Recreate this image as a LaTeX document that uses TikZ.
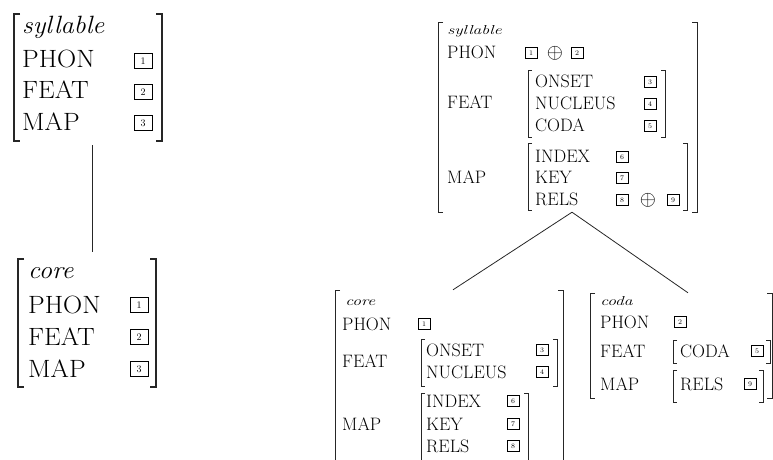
\documentclass[tikz,border=0pt]{standalone}
\usetikzlibrary{fit}
\newcommand{\avmLB}[4]{\draw[brk] (#1+#4,#2) -- (#1,#2) -- (#1,#3) -- (#1+#4,#3);}
\newcommand{\avmRB}[4]{\draw[brk] (#1-#4,#2) -- (#1,#2) -- (#1,#3) -- (#1-#4,#3);}
\tikzset{
  brk/.style={line width=0.9pt, black!85},
  big/.style={anchor=base west, inner sep=0, xscale=1.06, font=\fontsize{25}{25}\selectfont},
  bigit/.style={anchor=base west, inner sep=0, xscale=1.06, font=\fontsize{25}{25}\selectfont\itshape},
  sm/.style={anchor=base west, inner sep=0, font=\fontsize{18}{18}\selectfont},
  smit/.style={anchor=base west, inner sep=0, xscale=1.35, font=\fontsize{13}{13}\selectfont\itshape},
  btag/.style={draw, line width=0.8pt, inner sep=0, minimum width=18pt, minimum height=15pt, font=\fontsize{10}{10}\selectfont},
  stag/.style={draw, line width=0.7pt, inner sep=0, minimum width=12pt, minimum height=11pt, font=\fontsize{7}{7}\selectfont},
  op/.style={inner sep=0, font=\fontsize{22}{22}\selectfont},
  avm/.style={inner sep=0},
  conn/.style={line width=0.8pt, black!85},
}
\begin{document}
\begin{tikzpicture}[x=1pt,y=-1pt]
\useasboundingbox (0,0) rectangle (773,459);
\clip (0,0) rectangle (773,459);

% ---------- left syllable ----------
\node[avm, fit={(14,14) (162,141)}] (sylL) {};
\begin{scope}[brk/.append style={line width=1.3pt}]
\avmLB{14}{14}{141}{6}
\avmRB{162}{14}{141}{6}
\end{scope}
\node[bigit] (sLt) at (22,33) {syllable};
\node[big] (sLp) at (22,67) {PHON};
\node[big] (sLf) at (22,98) {FEAT};
\node[big] (sLm) at (22,130) {MAP};
\node[btag] (sLp1) at (143,61) {1};
\node[btag] (sLf2) at (143,92) {2};
\node[btag] (sLm3) at (143,123) {3};

% ---------- left core ----------
\node[avm, fit={(18,259) (156,387)}] (coreL) {};
\begin{scope}[brk/.append style={line width=1.3pt}]
\avmLB{18}{259}{387}{6}
\avmRB{156}{259}{387}{6}
\end{scope}
\node[bigit] (cLt) at (28,278) {core};
\node[big] (cLp) at (28,313) {PHON};
\node[big] (cLf) at (28,345) {FEAT};
\node[big] (cLm) at (28,377) {MAP};
\node[btag] (cLp1) at (139,305) {1};
\node[btag] (cLf2) at (139,337) {2};
\node[btag] (cLm3) at (139,369) {3};

\draw[conn, shorten <=4pt, shorten >=7pt] ([xshift=4pt]sylL.south) -- ([xshift=5pt]coreL.north);

% ---------- right syllable ----------
\node[avm, fit={(438,22) (697,212)}] (sylR) {};
\avmLB{438}{22}{212}{5}
\avmRB{697}{22}{212}{5}
\node[smit] (sRt) at (447,34) {syllable};
\node[sm] (sRp) at (447,58) {PHON};
\node[stag] (sRp1) at (531,53) {1};
\node[op] (sRpo) at (555,53) {$\oplus$};
\node[stag] (sRp2) at (577,53) {2};
\node[sm] (sRf) at (447,108) {FEAT};
\avmLB{528}{70}{137}{4}
\avmRB{665}{70}{137}{4}
\node[sm] (sRon) at (535,87) {ONSET};
\node[sm] (sRnu) at (535,109) {NUCLEUS};
\node[sm] (sRco) at (535,131) {CODA};
\node[stag] (sRt3) at (650,82) {3};
\node[stag] (sRt4) at (650,104) {4};
\node[stag] (sRt5) at (650,126) {5};
\node[sm] (sRm) at (447,183) {MAP};
\avmLB{528}{143}{210}{4}
\avmRB{687}{143}{210}{4}
\node[sm] (sRin) at (535,162) {INDEX};
\node[sm] (sRke) at (535,183) {KEY};
\node[sm] (sRre) at (535,205) {RELS};
\node[stag] (sRt6) at (622,157) {6};
\node[stag] (sRt7) at (622,178) {7};
\node[stag] (sRt8) at (622,200) {8};
\node[op] (sRro) at (648,200) {$\oplus$};
\node[stag] (sRt9) at (673,200) {9};

% ---------- right core ----------
\node[avm, fit={(335,290) (563,459)}] (coreR) {};
\avmLB{335}{290}{475}{5}
\avmRB{563}{290}{475}{5}
\node[smit] (cRt) at (345,305) {core};
\node[sm] (cRp) at (342,330) {PHON};
\node[stag] (cRp1) at (424,324) {1};
\node[sm] (cRf) at (342,367) {FEAT};
\avmLB{421}{339}{386}{4}
\avmRB{557}{339}{386}{4}
\node[sm] (cRon) at (426,356) {ONSET};
\node[sm] (cRnu) at (426,378) {NUCLEUS};
\node[stag] (cRt3) at (542,350) {3};
\node[stag] (cRt4) at (542,372) {4};
\node[sm] (cRm) at (342,430) {MAP};
\avmLB{421}{393}{470}{4}
\avmRB{528}{393}{470}{4}
\node[sm] (cRin) at (426,407) {INDEX};
\node[sm] (cRke) at (426,430) {KEY};
\node[sm] (cRre) at (426,452) {RELS};
\node[stag] (cRt6) at (513,401) {6};
\node[stag] (cRt7) at (513,424) {7};
\node[stag] (cRt8) at (513,446) {8};

% ---------- right coda ----------
\node[avm, fit={(590,293) (772,398)}] (codaR) {};
\avmLB{590}{293}{398}{5}
\avmRB{772}{293}{398}{5}
\node[smit] (dRt) at (600,305) {coda};
\node[sm] (dRp) at (600,328) {PHON};
\node[stag] (dRp2) at (680,322) {2};
\node[sm] (dRf) at (600,357) {FEAT};
\avmLB{673}{340}{363}{4}
\avmRB{770}{340}{363}{4}
\node[sm] (dRco) at (680,357) {CODA};
\node[stag] (dRt5) at (757,351) {5};
\node[sm] (dRm) at (600,390) {MAP};
\avmLB{673}{370}{402}{4}
\avmRB{763}{370}{402}{4}
\node[sm] (dRre) at (680,390) {RELS};
\node[stag] (dRt9) at (750,384) {9};

\draw[conn] ([xshift=4.5pt]sylR.south) -- ([xshift=4pt]coreR.north);
\draw[conn] ([xshift=4.5pt]sylR.south) -- ([xshift=7pt]codaR.north);
\end{tikzpicture}
\end{document}
